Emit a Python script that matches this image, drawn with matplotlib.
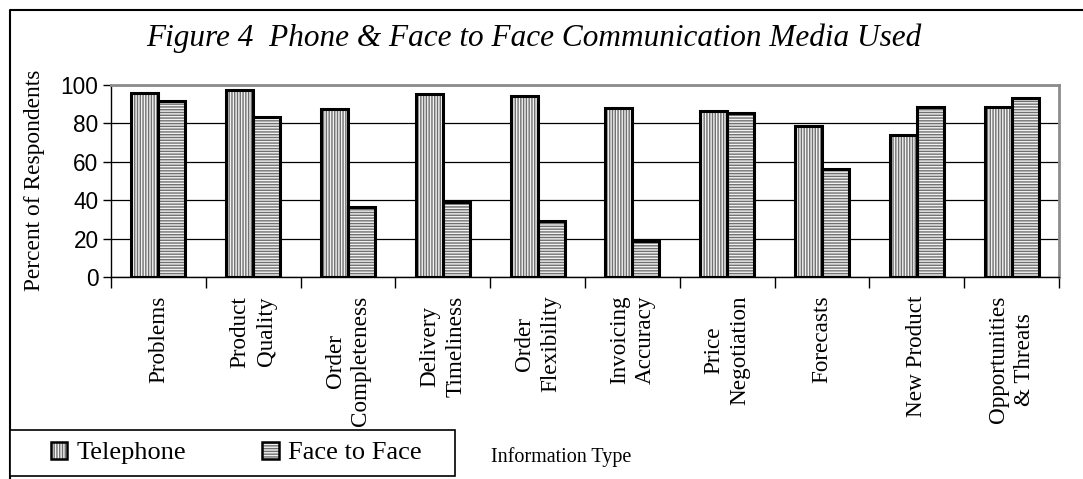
import numpy as np
import matplotlib
matplotlib.use('Agg')
import matplotlib.pyplot as plt
from matplotlib.lines import Line2D
from matplotlib.patches import Patch, Rectangle

categories = ['Problems', 'Product\nQuality', 'Order\nCompleteness', 'Delivery\nTimeliness',
              'Order\nFlexibility', 'Invoicing\nAccuracy', 'Price\nNegotiation', 'Forecasts',
              'New Product', 'Opportunities\n& Threats']
telephone = [95.7, 97.4, 87.5, 95.3, 94.3, 88.2, 86.6, 78.6, 74.0, 88.7]
face_to_face = [91.7, 83.5, 36.3, 39.0, 29.3, 18.8, 85.6, 56.3, 88.7, 93.4]
series_names = ['Telephone', 'Face to Face']
y_ticks = [0, 20, 40, 60, 80, 100]

W, H = 1083, 479
serif = 'Liberation Serif'
sans = 'Liberation Sans'
plt.rcParams['hatch.linewidth'] = 1.0

fig = plt.figure(figsize=(W / 100, H / 100), dpi=100)
ax = fig.add_axes([111 / W, 1 - 277 / H, 948 / W, 192 / H])

x = np.arange(len(categories))
w = 0.2857
handles = []
for vals, off, hatch in [(telephone, -w / 2, '|' * 6), (face_to_face, w / 2, '-' * 6)]:
    # hatch colour follows edgecolor, so draw the pattern first and the black outline on top
    ax.bar(x + off, vals, w, color='#f2f2f2', edgecolor='#707070', hatch=hatch,
           linewidth=0, zorder=2)
    ax.bar(x + off, vals, w, fill=False, edgecolor='black', linewidth=2.2, zorder=3)
    handles.append((Patch(facecolor='#f2f2f2', edgecolor='#707070', hatch=hatch, linewidth=0),
                    Patch(fill=False, edgecolor='black', linewidth=1.8)))

ax.set_xlim(-0.5, len(categories) - 0.5)
ax.set_ylim(0, 100)
ax.set_yticks(y_ticks)
ax.set_yticklabels([str(v) for v in y_ticks], fontfamily=sans, fontsize=16.3)
ax.tick_params(axis='y', direction='out', length=6, width=1, pad=3)
ax.yaxis.grid(True, color='black', linewidth=0.9, zorder=0)
ax.set_axisbelow(True)

ax.set_xticks(x)
ax.set_xticklabels(categories, rotation=90, fontfamily=serif, fontsize=16.7,
                   linespacing=1.3, va='top', ha='center', multialignment='center')
ax.set_xticks(np.arange(len(categories) + 1) - 0.5, minor=True)
ax.tick_params(axis='x', which='major', length=0, pad=13.5)
ax.tick_params(axis='x', which='minor', direction='out', length=8, width=1)

for s in ['top', 'right']:
    ax.spines[s].set_color('#8c8c8c')
    ax.spines[s].set_linewidth(2)
for s in ['left', 'bottom']:
    ax.spines[s].set_color('black')
    ax.spines[s].set_linewidth(1)

fig.text(534 / W, 1 - 38 / H, 'Figure 4  Phone & Face to Face Communication Media Used',
         fontfamily=serif, fontstyle='italic', fontsize=22.5, ha='center', va='center')
fig.text(35 / W, 1 - 180 / H, 'Percent of Respondents', rotation=90,
         fontfamily=serif, fontsize=16.8, ha='center', va='center')
fig.text(561 / W, 1 - 457 / H, 'Information Type',
         fontfamily=serif, fontsize=14.5, ha='center', va='center')

# outer chart border (top and left only are visible)
fig.add_artist(Line2D([10 / W, 10 / W, 1], [0, 1 - 10 / H, 1 - 10 / H],
                      transform=fig.transFigure, color='black', linewidth=1.5))

# legend box
fig.add_artist(Rectangle((10 / W, 1 - 476 / H), 445 / W, 46 / H, transform=fig.transFigure,
                         facecolor='white', edgecolor='black', linewidth=1.2, zorder=4))
leg = fig.legend(handles, series_names, loc='center', bbox_to_anchor=(236 / W, 1 - 453 / H),
                 ncol=2, frameon=False, prop={'family': serif, 'size': 19},
                 handlelength=0.62, handleheight=0.62, handletextpad=0.35,
                 columnspacing=2.9, borderpad=0)
leg.set_zorder(5)

plt.savefig('out.png', dpi=100)
plt.close()
